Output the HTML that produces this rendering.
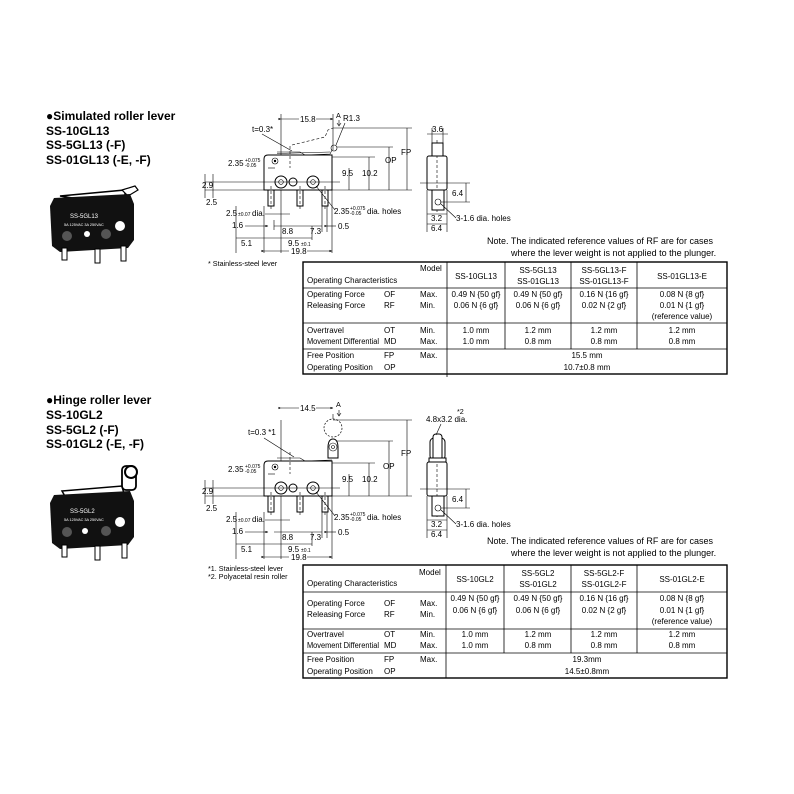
<!DOCTYPE html>
<html><head><meta charset="utf-8"><style>
html,body{margin:0;padding:0;background:#fff}
svg{display:block;font-family:"Liberation Sans",Arial,sans-serif}
.h{font-weight:bold;font-size:12px}
.t{font-size:8px}
.s{font-size:7.2px}
.d{font-size:8px}
.ln{stroke:#000;stroke-width:0.6;fill:none}
.bd{stroke:#000;stroke-width:1;fill:#fff}
.dash{stroke:#000;stroke-width:0.6;stroke-dasharray:3,2;fill:none}
.tb{stroke:#000;stroke-width:0.8;fill:none}
.tbo{stroke:#000;stroke-width:1.4;fill:none}
</style></head><body>
<svg width="794" height="794" viewBox="0 0 794 794" xmlns="http://www.w3.org/2000/svg">
<defs>
<marker id="ar" markerWidth="5" markerHeight="5" refX="4.5" refY="2.5" orient="auto"><path d="M0,0.5 L5,2.5 L0,4.5z" fill="#000"/></marker>
</defs>

<!-- ===== TOP SECTION ===== -->
<text class="h" x="46" y="120">●Simulated roller lever</text>
<text class="h" x="46" y="135">SS-10GL13</text>
<text class="h" x="46" y="149">SS-5GL13 (-F)</text>
<text class="h" x="46" y="164">SS-01GL13 (-E, -F)</text>

<!-- photo top -->
<g>
<path d="M60,196 L125,190 L125,198 L85,200z" fill="#fff" stroke="#000" stroke-width="1.5"/>
<path d="M122,190 L135,186 L138,190 L128,196z" fill="#fff" stroke="#000" stroke-width="1.2"/>
<path d="M54,198 L130,194 L134,204 L134,240 L128,248 L60,252 L52,246 L50,206z" fill="#111"/>
<text x="70" y="218" fill="#fff" font-size="6">SS-5GL13</text>
<text x="64" y="226" fill="#fff" font-size="3.8">5A 125VAC 3A 250VAC</text>
<circle cx="67" cy="236" r="5" fill="#555"/><circle cx="87" cy="234" r="3" fill="#fff"/><circle cx="106" cy="234" r="5" fill="#555"/><circle cx="120" cy="226" r="5" fill="#fff"/>
<rect x="62" y="248" width="5" height="12" fill="#fff" stroke="#000"/>
<rect x="95" y="249" width="5" height="14" fill="#fff" stroke="#000"/>
<rect x="121" y="246" width="5" height="15" fill="#fff" stroke="#000"/>
</g>

<g>
<line class="ln" x1="281" y1="114" x2="281" y2="253"/>
<path class="bd" d="M268,155 L332,155 L332,190 L264,190 L264,159 Q264,155 268,155z"/>
<circle cx="275" cy="161" r="3" class="ln"/><circle cx="275" cy="161" r="1.2" fill="#000"/>
<circle cx="281" cy="182" r="6" class="bd"/><circle cx="281" cy="182" r="2.3" class="ln"/>
<circle cx="293" cy="182" r="4" class="bd"/>
<circle cx="313" cy="182" r="6" class="bd"/><circle cx="313" cy="182" r="2.3" class="ln"/>
<rect x="268" y="190" width="6" height="16" class="bd"/><rect x="297" y="190" width="6" height="16" class="bd"/><rect x="322" y="190" width="6" height="16" class="bd"/>
<line class="dash" x1="271" y1="186" x2="271" y2="210"/><line class="dash" x1="300" y1="186" x2="300" y2="210"/><line class="dash" x1="325" y1="186" x2="325" y2="210"/>
<line class="dash" x1="290" y1="146" x2="290" y2="168"/>
<line class="ln" x1="205" y1="182" x2="340" y2="182"/>
<line class="ln" x1="205" y1="190" x2="264" y2="190"/>
<line class="ln" x1="332" y1="190" x2="412" y2="190"/>
</g>
<!-- top lever -->
<path d="M277,152 L300,152 L305,155 L330,154 L332,150" class="ln" stroke-width="1.2"/>
<path d="M277,153.5 L330,152" class="ln"/>
<circle cx="334" cy="148" r="3" class="ln"/>
<path d="M292,145 L325,137 L328,130 L333,128" class="dash"/>
<line class="ln" x1="333" y1="128" x2="412" y2="128"/>
<line class="ln" x1="337" y1="147" x2="393" y2="147"/>
<line class="ln" x1="332" y1="157" x2="375" y2="157"/>
<line class="ln" x1="333" y1="114" x2="333" y2="150"/>
<text class="d" x="343" y="121">R1.3</text>
<line class="ln" x1="345" y1="123" x2="336" y2="145"/>

<g>
<line class="ln" x1="281" y1="119" x2="299" y2="119" marker-start="url(#ar)"/>
<line class="ln" x1="316" y1="119" x2="333" y2="119" marker-end="url(#ar)"/>
<text class="d" x="300" y="122">15.8</text>
<text class="s" x="336" y="118">A</text>
<path d="M339,120 L339,125 M337,123 L339,126 L341,123" class="ln" stroke-width="1.2"/>
<text class="d" x="252" y="132">t=0.3*</text>
<line class="ln" x1="262" y1="134" x2="292" y2="151"/>
<text class="d" x="228" y="166">2.35</text><text font-size="5" x="245" y="162">+0.075</text><text font-size="5" x="245" y="167">-0.05</text>
<line class="ln" x1="268" y1="168" x2="275" y2="168"/>
<line class="ln" x1="205" y1="174" x2="205" y2="198"/>
<text class="d" x="202" y="188">2.9</text>
<line class="ln" x1="213" y1="174" x2="213" y2="198"/>
<text class="d" x="206" y="205">2.5</text>
<text class="d" x="226" y="216">2.5</text><text font-size="5" x="238" y="216">±0.07</text><text class="d" x="252" y="216">dia.</text>
<line class="ln" x1="265" y1="214" x2="290" y2="214"/>
<text class="d" x="232" y="228">1.6</text><line class="ln" x1="245" y1="226" x2="268" y2="226" marker-end="url(#ar)"/>
<line class="ln" x1="236" y1="206" x2="236" y2="253"/>
<line class="ln" x1="264" y1="206" x2="264" y2="253"/>
<line class="ln" x1="274" y1="220" x2="274" y2="230"/>
<line class="ln" x1="274" y1="226" x2="322" y2="226"/>
<text class="d" x="282" y="234">8.8</text>
<text class="d" x="310" y="234">7.3</text>
<line class="ln" x1="312" y1="226" x2="312" y2="240"/>
<line class="ln" x1="322" y1="206" x2="322" y2="232"/><line class="ln" x1="327" y1="206" x2="327" y2="232"/>
<line class="ln" x1="327" y1="226" x2="336" y2="226" marker-start="url(#ar)"/><text class="d" x="338" y="229">0.5</text>
<line class="ln" x1="236" y1="238" x2="312" y2="238"/>
<text class="d" x="241" y="246">5.1</text><text class="d" x="288" y="246">9.5</text><text font-size="5" x="301" y="246">±0.1</text>
<line class="ln" x1="264" y1="251" x2="289" y2="251" marker-start="url(#ar)"/>
<line class="ln" x1="307" y1="251" x2="332" y2="251" marker-end="url(#ar)"/>
<text class="d" x="291" y="254">19.8</text>
<line class="ln" x1="332" y1="190" x2="332" y2="253"/>
<line class="ln" x1="316" y1="186" x2="335" y2="210"/>
<text class="d" x="334" y="214">2.35</text><text font-size="5" x="350" y="210">+0.075</text><text font-size="5" x="350" y="215">-0.05</text><text class="d" x="367" y="214">dia. holes</text>
<line class="ln" x1="349" y1="168" x2="349" y2="190"/><text class="d" x="342" y="176">9.5</text>
<line class="ln" x1="369" y1="157" x2="369" y2="190"/><text class="d" x="362" y="176">10.2</text>
<line class="ln" x1="389" y1="147" x2="389" y2="190"/><text class="d" x="385" y="163">OP</text>
<line class="ln" x1="407" y1="128" x2="407" y2="190"/><text class="d" x="401" y="155">FP</text>
<rect x="427" y="156" width="20" height="34" class="bd" rx="2"/>
<line class="dash" x1="437" y1="140" x2="437" y2="212"/>
<rect x="432" y="190" width="12" height="20" class="bd"/>
<circle cx="438" cy="202" r="3" class="ln"/>
<line class="ln" x1="420" y1="183" x2="470" y2="183"/>
<line class="ln" x1="440" y1="202" x2="470" y2="202"/>
<line class="ln" x1="466" y1="183" x2="466" y2="202"/><text class="d" x="452" y="196">6.4</text>
<line class="ln" x1="441" y1="204" x2="456" y2="218"/><text class="d" x="456" y="221">3-1.6 dia. holes</text>
<line class="ln" x1="427" y1="190" x2="427" y2="232"/><line class="ln" x1="447" y1="190" x2="447" y2="232"/>
<line class="ln" x1="427" y1="214" x2="447" y2="214"/><text class="d" x="431" y="221">3.2</text>
<line class="ln" x1="427" y1="224" x2="447" y2="224"/><text class="d" x="431" y="231">6.4</text>
</g>
<rect x="432" y="143" width="11" height="13" class="bd"/>
<line class="ln" x1="427" y1="134" x2="448" y2="134"/><text class="d" x="432" y="132">3.6</text>
<line class="ln" x1="432" y1="128" x2="432" y2="143"/><line class="ln" x1="443" y1="128" x2="443" y2="143"/>

<text class="s" x="208" y="266">* Stainless-steel lever</text>
<text font-size="9" x="487" y="244">Note. The indicated reference values of RF are for cases</text>
<text font-size="9" x="511" y="256">where the lever weight is not applied to the plunger.</text>

<!-- top table -->
<g>
<rect class="tbo" x="303" y="262" width="424" height="112"/>
<line class="tb" x1="303" y1="288" x2="727" y2="288"/>
<line class="tb" x1="303" y1="323" x2="727" y2="323"/>
<line class="tb" x1="303" y1="349" x2="727" y2="349"/>
<line class="tb" x1="447" y1="262" x2="447" y2="377"/>
<line class="tb" x1="505" y1="262" x2="505" y2="349"/>
<line class="tb" x1="571" y1="262" x2="571" y2="349"/>
<line class="tb" x1="637" y1="262" x2="637" y2="349"/>
<text class="t" x="420" y="271">Model</text>
<text class="t" x="307" y="283">Operating Characteristics</text>
<text class="t" x="476" y="279" text-anchor="middle">SS-10GL13</text>
<text class="t" x="538" y="273" text-anchor="middle">SS-5GL13</text><text class="t" x="538" y="284" text-anchor="middle">SS-01GL13</text>
<text class="t" x="604" y="273" text-anchor="middle">SS-5GL13-F</text><text class="t" x="604" y="284" text-anchor="middle">SS-01GL13-F</text>
<text class="t" x="682" y="279" text-anchor="middle">SS-01GL13-E</text>
<text class="t" x="307" y="297">Operating Force</text><text class="t" x="384" y="297">OF</text><text class="t" x="420" y="297">Max.</text>
<text class="t" x="307" y="308">Releasing Force</text><text class="t" x="384" y="308">RF</text><text class="t" x="420" y="308">Min.</text>
<text class="t" x="476" y="297" text-anchor="middle">0.49 N {50 gf}</text><text class="t" x="476" y="308" text-anchor="middle">0.06 N {6 gf}</text>
<text class="t" x="538" y="297" text-anchor="middle">0.49 N {50 gf}</text><text class="t" x="538" y="308" text-anchor="middle">0.06 N {6 gf}</text>
<text class="t" x="604" y="297" text-anchor="middle">0.16 N {16 gf}</text><text class="t" x="604" y="308" text-anchor="middle">0.02 N {2 gf}</text>
<text class="t" x="682" y="297" text-anchor="middle">0.08 N {8 gf}</text><text class="t" x="682" y="308" text-anchor="middle">0.01 N {1 gf}</text><text class="t" x="682" y="319" text-anchor="middle">(reference value)</text>
<text class="t" x="307" y="333">Overtravel</text><text class="t" x="384" y="333">OT</text><text class="t" x="420" y="333">Min.</text>
<text class="t" x="307" y="344" textLength="72" lengthAdjust="spacingAndGlyphs">Movement Differential</text><text class="t" x="384" y="344">MD</text><text class="t" x="420" y="344">Max.</text>
<text class="t" x="476" y="333" text-anchor="middle">1.0 mm</text><text class="t" x="476" y="344" text-anchor="middle">1.0 mm</text>
<text class="t" x="538" y="333" text-anchor="middle">1.2 mm</text><text class="t" x="538" y="344" text-anchor="middle">0.8 mm</text>
<text class="t" x="604" y="333" text-anchor="middle">1.2 mm</text><text class="t" x="604" y="344" text-anchor="middle">0.8 mm</text>
<text class="t" x="682" y="333" text-anchor="middle">1.2 mm</text><text class="t" x="682" y="344" text-anchor="middle">0.8 mm</text>
<text class="t" x="307" y="358">Free Position</text><text class="t" x="384" y="358">FP</text><text class="t" x="420" y="358">Max.</text>
<text class="t" x="307" y="370">Operating Position</text><text class="t" x="384" y="370">OP</text>
<text class="t" x="587" y="358" text-anchor="middle">15.5 mm</text><text class="t" x="587" y="370" text-anchor="middle">10.7±0.8 mm</text>
</g>

<!-- ===== BOTTOM SECTION ===== -->
<text class="h" x="46" y="404">●Hinge roller lever</text>
<text class="h" x="46" y="419">SS-10GL2</text>
<text class="h" x="46" y="434">SS-5GL2 (-F)</text>
<text class="h" x="46" y="448">SS-01GL2 (-E, -F)</text>

<g>
<path d="M62,491 L122,486 L124,494 L66,498z" fill="#fff" stroke="#000" stroke-width="1.5"/>
<rect x="122" y="466" width="14" height="24" rx="4" fill="#fff" stroke="#000" stroke-width="1.8"/>
<circle cx="131" cy="472" r="6" fill="#fff" stroke="#000" stroke-width="2"/>
<path d="M54,495 L130,491 L134,501 L134,537 L128,545 L60,549 L52,543 L50,503z" fill="#111"/>
<text x="70" y="513" fill="#fff" font-size="6">SS-5GL2</text>
<text x="64" y="521" fill="#fff" font-size="3.8">5A 125VAC 3A 250VAC</text>
<circle cx="67" cy="532" r="5" fill="#555"/><circle cx="85" cy="531" r="3" fill="#fff"/><circle cx="106" cy="531" r="5" fill="#555"/><circle cx="120" cy="522" r="5" fill="#fff"/>
<rect x="62" y="545" width="5" height="12" fill="#fff" stroke="#000"/>
<rect x="95" y="546" width="5" height="14" fill="#fff" stroke="#000"/>
<rect x="122" y="543" width="5" height="15" fill="#fff" stroke="#000"/>
</g>

<g transform="translate(0,306)">
<line class="ln" x1="281" y1="114" x2="281" y2="253"/>
<path class="bd" d="M268,155 L332,155 L332,190 L264,190 L264,159 Q264,155 268,155z"/>
<circle cx="275" cy="161" r="3" class="ln"/><circle cx="275" cy="161" r="1.2" fill="#000"/>
<circle cx="281" cy="182" r="6" class="bd"/><circle cx="281" cy="182" r="2.3" class="ln"/>
<circle cx="293" cy="182" r="4" class="bd"/>
<circle cx="313" cy="182" r="6" class="bd"/><circle cx="313" cy="182" r="2.3" class="ln"/>
<rect x="268" y="190" width="6" height="16" class="bd"/><rect x="297" y="190" width="6" height="16" class="bd"/><rect x="322" y="190" width="6" height="16" class="bd"/>
<line class="dash" x1="271" y1="186" x2="271" y2="210"/><line class="dash" x1="300" y1="186" x2="300" y2="210"/><line class="dash" x1="325" y1="186" x2="325" y2="210"/>
<line class="dash" x1="290" y1="146" x2="290" y2="168"/>
<line class="ln" x1="205" y1="182" x2="340" y2="182"/>
<line class="ln" x1="205" y1="190" x2="264" y2="190"/>
<line class="ln" x1="332" y1="190" x2="412" y2="190"/>
<path d="M277,152 L300,152 L305,155 L332,154" class="ln" stroke-width="1.2"/>
<path d="M328,152 L328,142 Q328,133 333,133 Q338,133 338,142 L338,152z" class="bd"/>
<circle cx="333" cy="141" r="4" class="ln"/><circle cx="333" cy="141" r="1.5" class="ln"/>
<circle cx="333" cy="122" r="9" fill="none" stroke="#000" stroke-width="0.7" stroke-dasharray="2,1.5"/>
<line class="ln" x1="333" y1="114" x2="412" y2="114"/>
<line class="ln" x1="337" y1="135" x2="393" y2="135"/>
<line class="ln" x1="332" y1="157" x2="375" y2="157"/>
<line class="ln" x1="333" y1="108" x2="333" y2="113"/>
<line class="ln" x1="281" y1="102" x2="299" y2="102" marker-start="url(#ar)"/>
<line class="ln" x1="316" y1="102" x2="333" y2="102" marker-end="url(#ar)"/>
<text class="d" x="300" y="105">14.5</text>
<text class="s" x="336" y="101">A</text>
<path d="M339,104 L339,110 M337,107 L339,110 L341,107" class="ln" stroke-width="1.2"/>
<text class="d" x="248" y="129">t=0.3 *1</text>
<line class="ln" x1="264" y1="132" x2="294" y2="151"/>
<text class="d" x="228" y="166">2.35</text><text font-size="5" x="245" y="162">+0.075</text><text font-size="5" x="245" y="167">-0.05</text>
<line class="ln" x1="268" y1="168" x2="275" y2="168"/>
<line class="ln" x1="205" y1="174" x2="205" y2="198"/>
<text class="d" x="202" y="188">2.9</text>
<line class="ln" x1="213" y1="174" x2="213" y2="198"/>
<text class="d" x="206" y="205">2.5</text>
<text class="d" x="226" y="216">2.5</text><text font-size="5" x="238" y="216">±0.07</text><text class="d" x="252" y="216">dia.</text>
<line class="ln" x1="265" y1="214" x2="290" y2="214"/>
<text class="d" x="232" y="228">1.6</text><line class="ln" x1="245" y1="226" x2="268" y2="226" marker-end="url(#ar)"/>
<line class="ln" x1="236" y1="206" x2="236" y2="253"/>
<line class="ln" x1="264" y1="206" x2="264" y2="253"/>
<line class="ln" x1="274" y1="226" x2="322" y2="226"/>
<text class="d" x="282" y="234">8.8</text>
<text class="d" x="310" y="234">7.3</text>
<line class="ln" x1="312" y1="226" x2="312" y2="240"/>
<line class="ln" x1="322" y1="206" x2="322" y2="232"/><line class="ln" x1="327" y1="206" x2="327" y2="232"/>
<line class="ln" x1="327" y1="226" x2="336" y2="226" marker-start="url(#ar)"/><text class="d" x="338" y="229">0.5</text>
<line class="ln" x1="236" y1="238" x2="312" y2="238"/>
<text class="d" x="241" y="246">5.1</text><text class="d" x="288" y="246">9.5</text><text font-size="5" x="301" y="246">±0.1</text>
<line class="ln" x1="264" y1="251" x2="289" y2="251" marker-start="url(#ar)"/>
<line class="ln" x1="307" y1="251" x2="332" y2="251" marker-end="url(#ar)"/>
<text class="d" x="291" y="254">19.8</text>
<line class="ln" x1="332" y1="190" x2="332" y2="253"/>
<line class="ln" x1="316" y1="186" x2="335" y2="210"/>
<text class="d" x="334" y="214">2.35</text><text font-size="5" x="350" y="210">+0.075</text><text font-size="5" x="350" y="215">-0.05</text><text class="d" x="367" y="214">dia. holes</text>
<line class="ln" x1="349" y1="168" x2="349" y2="190"/><text class="d" x="342" y="176">9.5</text>
<line class="ln" x1="369" y1="157" x2="369" y2="190"/><text class="d" x="362" y="176">10.2</text>
<line class="ln" x1="389" y1="135" x2="389" y2="190"/><text class="d" x="383" y="163">OP</text>
<line class="ln" x1="407" y1="114" x2="407" y2="190"/><text class="d" x="401" y="150">FP</text>
<rect x="427" y="156" width="20" height="34" class="bd" rx="2"/>
<line class="dash" x1="437" y1="128" x2="437" y2="212"/>
<rect x="432" y="190" width="12" height="20" class="bd"/>
<circle cx="438" cy="202" r="3" class="ln"/>
<line class="ln" x1="420" y1="183" x2="470" y2="183"/>
<line class="ln" x1="440" y1="202" x2="470" y2="202"/>
<line class="ln" x1="466" y1="183" x2="466" y2="202"/><text class="d" x="452" y="196">6.4</text>
<line class="ln" x1="441" y1="204" x2="456" y2="218"/><text class="d" x="456" y="221">3-1.6 dia. holes</text>
<line class="ln" x1="427" y1="190" x2="427" y2="232"/><line class="ln" x1="447" y1="190" x2="447" y2="232"/>
<line class="ln" x1="427" y1="214" x2="447" y2="214"/><text class="d" x="431" y="221">3.2</text>
<line class="ln" x1="427" y1="224" x2="447" y2="224"/><text class="d" x="431" y="231">6.4</text>
<rect x="430" y="132" width="15" height="22" rx="4" class="bd"/>
<rect x="433" y="128" width="9" height="28" rx="3" class="bd"/>
<rect x="429" y="152" width="17" height="4" class="bd"/>
<text class="s" x="457" y="108">*2</text>
<text class="d" x="426" y="116">4.8x3.2 dia.</text>
<line class="ln" x1="441" y1="118" x2="436" y2="129"/>
</g>

<text class="s" x="208" y="571">*1. Stainless-steel lever</text>
<text class="s" x="208" y="579">*2. Polyacetal resin roller</text>
<text font-size="9" x="487" y="544">Note. The indicated reference values of RF are for cases</text>
<text font-size="9" x="511" y="556">where the lever weight is not applied to the plunger.</text>

<g>
<rect class="tbo" x="303" y="565" width="424" height="113"/>
<line class="tb" x1="303" y1="592" x2="727" y2="592"/>
<line class="tb" x1="303" y1="629" x2="727" y2="629"/>
<line class="tb" x1="303" y1="653" x2="727" y2="653"/>
<line class="tb" x1="446" y1="565" x2="446" y2="678"/>
<line class="tb" x1="504" y1="565" x2="504" y2="653"/>
<line class="tb" x1="571" y1="565" x2="571" y2="653"/>
<line class="tb" x1="637" y1="565" x2="637" y2="653"/>
<text class="t" x="419" y="575">Model</text>
<text class="t" x="307" y="586">Operating Characteristics</text>
<text class="t" x="475" y="582" text-anchor="middle">SS-10GL2</text>
<text class="t" x="538" y="576" text-anchor="middle">SS-5GL2</text><text class="t" x="538" y="587" text-anchor="middle">SS-01GL2</text>
<text class="t" x="604" y="576" text-anchor="middle">SS-5GL2-F</text><text class="t" x="604" y="587" text-anchor="middle">SS-01GL2-F</text>
<text class="t" x="682" y="582" text-anchor="middle">SS-01GL2-E</text>
<text class="t" x="307" y="606">Operating Force</text><text class="t" x="384" y="606">OF</text><text class="t" x="420" y="606">Max.</text>
<text class="t" x="307" y="617">Releasing Force</text><text class="t" x="384" y="617">RF</text><text class="t" x="420" y="617">Min.</text>
<text class="t" x="475" y="601" text-anchor="middle">0.49 N {50 gf}</text><text class="t" x="475" y="613" text-anchor="middle">0.06 N {6 gf}</text>
<text class="t" x="538" y="601" text-anchor="middle">0.49 N {50 gf}</text><text class="t" x="538" y="613" text-anchor="middle">0.06 N {6 gf}</text>
<text class="t" x="604" y="601" text-anchor="middle">0.16 N {16 gf}</text><text class="t" x="604" y="613" text-anchor="middle">0.02 N {2 gf}</text>
<text class="t" x="682" y="601" text-anchor="middle">0.08 N {8 gf}</text><text class="t" x="682" y="613" text-anchor="middle">0.01 N {1 gf}</text><text class="t" x="682" y="624" text-anchor="middle">(reference value)</text>
<text class="t" x="307" y="637">Overtravel</text><text class="t" x="384" y="637">OT</text><text class="t" x="420" y="637">Min.</text>
<text class="t" x="307" y="648" textLength="72" lengthAdjust="spacingAndGlyphs">Movement Differential</text><text class="t" x="384" y="648">MD</text><text class="t" x="420" y="648">Max.</text>
<text class="t" x="475" y="637" text-anchor="middle">1.0 mm</text><text class="t" x="475" y="648" text-anchor="middle">1.0 mm</text>
<text class="t" x="538" y="637" text-anchor="middle">1.2 mm</text><text class="t" x="538" y="648" text-anchor="middle">0.8 mm</text>
<text class="t" x="604" y="637" text-anchor="middle">1.2 mm</text><text class="t" x="604" y="648" text-anchor="middle">0.8 mm</text>
<text class="t" x="682" y="637" text-anchor="middle">1.2 mm</text><text class="t" x="682" y="648" text-anchor="middle">0.8 mm</text>
<text class="t" x="307" y="662">Free Position</text><text class="t" x="384" y="662">FP</text><text class="t" x="420" y="662">Max.</text>
<text class="t" x="307" y="674">Operating Position</text><text class="t" x="384" y="674">OP</text>
<text class="t" x="587" y="662" text-anchor="middle">19.3mm</text><text class="t" x="587" y="674" text-anchor="middle">14.5±0.8mm</text>
</g>
</svg>
</body></html>
